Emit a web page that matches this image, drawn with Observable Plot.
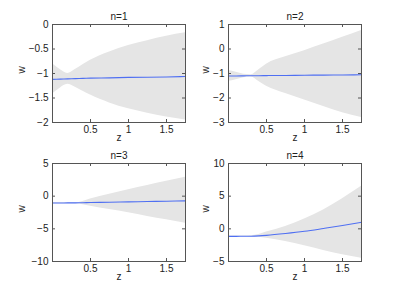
<!DOCTYPE html>
<html><head><meta charset="utf-8">
<script src="https://cdn.jsdelivr.net/npm/d3@7"></script>
<script src="https://cdn.jsdelivr.net/npm/@observablehq/plot@0.6"></script>
<style>
body{margin:0;background:#fff}
#c{position:relative;width:399px;height:294px;overflow:hidden;font-family:"Liberation Sans",Arial,sans-serif}
#c > div, #c > svg{position:absolute}
</style></head><body><div id="c"></div>
<script>
const z = [0, 0.1, 0.2, 0.3, 0.4, 0.5, 0.75, 1, 1.25, 1.5, 1.75];
const titles = ["n=1", "n=2", "n=3", "n=4"];

const upper1 = [-0.80, -0.92, -1.00, -0.92, -0.82, -0.73, -0.56, -0.43, -0.33, -0.24, -0.17];
const lower1 = [-1.42, -1.30, -1.22, -1.28, -1.36, -1.44, -1.60, -1.72, -1.81, -1.89, -1.95];
const mean1  = [-1.12, -1.115, -1.11, -1.105, -1.10, -1.095, -1.09, -1.08, -1.075, -1.07, -1.06];

const upper2 = [-0.88, -0.95, -1.03, -1.05, -0.85, -0.62, -0.32, -0.07, 0.20, 0.48, 0.76];
const lower2 = [-1.32, -1.25, -1.17, -1.14, -1.33, -1.52, -1.82, -2.08, -2.35, -2.60, -2.80];
const mean2  = [-1.10, -1.10, -1.095, -1.09, -1.09, -1.085, -1.08, -1.07, -1.065, -1.06, -1.05];

const upper3 = [-1.00, -1.00, -1.00, -1.00, -0.80, -0.45, 0.30, 1.00, 1.65, 2.30, 2.90];
const lower3 = [-1.15, -1.15, -1.15, -1.15, -1.30, -1.55, -2.05, -2.55, -3.10, -3.60, -4.15];
const mean3  = [-1.05, -1.04, -1.03, -1.02, -1.00, -0.98, -0.93, -0.88, -0.82, -0.77, -0.72];

const upper4 = [-1.10, -1.10, -1.08, -1.05, -0.85, -0.50, 0.35, 1.50, 2.90, 4.60, 6.50];
const lower4 = [-1.20, -1.20, -1.22, -1.25, -1.30, -1.45, -1.95, -2.60, -3.30, -3.95, -4.50];
const mean4  = [-1.15, -1.15, -1.14, -1.13, -1.08, -1.00, -0.72, -0.38, 0.05, 0.50, 1.00];

const xDomain = [0, 1.75];
const xTicks = [0.5, 1, 1.5];
const yTicks1 = [-2, -1.5, -1, -0.5, 0];
const yTicks2 = [-3, -2, -1, 0, 1];
const yTicks3 = [-10, -5, 0, 5];
const yTicks4 = [-5, 0, 5, 10];

const uppers = [upper1, upper2, upper3, upper4];
const lowers = [lower1, lower2, lower3, lower4];
const means = [mean1, mean2, mean3, mean4];
const yTicks = [yTicks1, yTicks2, yTicks3, yTicks4];

const layout = [
  {left: 0,   top: 0,   width: 200, height: 147, mL: 52, mR: 15, mT: 24, mB: 25, wDx: 31},
  {left: 200, top: 0,   width: 199, height: 147, mL: 28, mR: 38, mT: 24, mB: 25, wDx: 23},
  {left: 0,   top: 147, width: 200, height: 147, mL: 52, mR: 15, mT: 16, mB: 33, wDx: 31},
  {left: 200, top: 147, width: 199, height: 147, mL: 28, mR: 38, mT: 16, mB: 33, wDx: 23}
];

const container = document.getElementById("c");
const fontFamily = "'Liberation Sans', Arial, Helvetica, sans-serif";
const axisColor = "#555";
const fmt = d => (d < 0 ? "\u2212" : "") + String(Math.abs(d));

for (let i = 0; i < 4; i++) {
  const rows = z.map((d, k) => ({z: d, lo: lowers[i][k], hi: uppers[i][k], m: means[i][k]}));
  const L = layout[i];
  const W = L.width - L.mL - L.mR;
  const H = L.height - L.mT - L.mB;
  const yt = yTicks[i];
  const p = Plot.plot({
    width: L.width, height: L.height,
    marginLeft: L.mL, marginRight: L.mR, marginTop: L.mT, marginBottom: L.mB,
    style: {fontFamily, fontSize: "10px", color: "#222", background: "transparent", overflow: "visible"},
    x: {domain: xDomain, ticks: xTicks},
    y: {domain: d3.extent(yt), ticks: yt},
    marks: [
      Plot.areaY(rows, {x: "z", y1: "lo", y2: "hi", fill: "#e5e5e5", curve: "monotone-x", clip: true}),
      Plot.lineY(rows, {x: "z", y: "m", stroke: "#4f6ff2", strokeWidth: 1.1, curve: "monotone-x", clip: true}),
      Plot.tickX(xTicks, {x: d => d, insetTop: H - 3, stroke: axisColor}),
      Plot.tickX(xTicks, {x: d => d, insetBottom: H - 3, stroke: axisColor}),
      Plot.tickY(yt, {y: d => d, insetRight: W - 3, stroke: axisColor}),
      Plot.tickY(yt, {y: d => d, insetLeft: W - 3, stroke: axisColor}),
      Plot.frame({stroke: axisColor}),
      Plot.axisX(xTicks, {tickSize: 0, tickPadding: 3, label: null, tickFormat: fmt}),
      Plot.axisY(yt, {tickSize: 0, tickPadding: 4, label: null, tickFormat: fmt}),
      Plot.text([titles[i]], {text: d => d, frameAnchor: "top", dy: -12, fill: "#222"}),
      Plot.text(["z"], {text: d => d, frameAnchor: "bottom", dy: 18, fill: "#222"}),
      Plot.text(["w"], {text: d => d, frameAnchor: "left", dx: -L.wDx, rotate: -90, fill: "#222"})
    ]
  });
  p.style.position = "absolute";
  p.style.left = L.left + "px";
  p.style.top = L.top + "px";
  container.appendChild(p);
}
</script>
</body></html>
